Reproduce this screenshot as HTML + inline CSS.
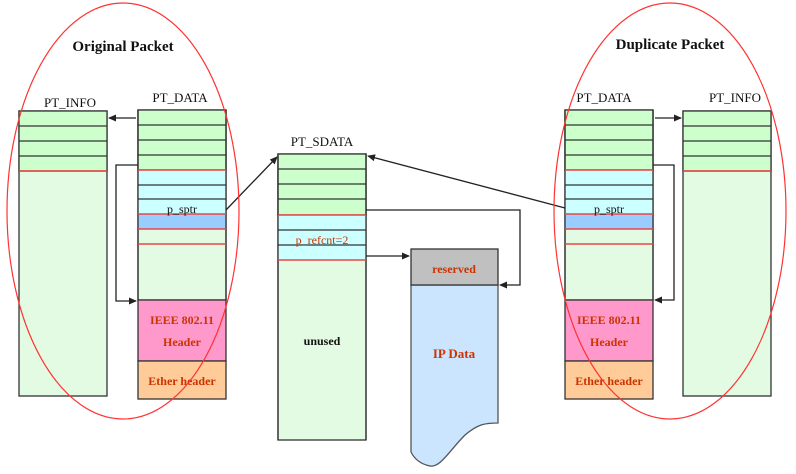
<!DOCTYPE html>
<html><head><meta charset="utf-8"><style>
html,body{margin:0;padding:0;background:#fff;}
svg{display:block;}
text{font-family:"Liberation Serif",serif;}
</style></head><body>
<svg width="796" height="474" viewBox="0 0 796 474" xmlns="http://www.w3.org/2000/svg">
<defs>
<marker id="ah" markerWidth="8" markerHeight="8" refX="7" refY="4" orient="auto" markerUnits="userSpaceOnUse">
<path d="M0,0.5 L8,4 L0,7.5 z" fill="#222"/></marker>
</defs>

<!-- Left PT_INFO -->
<rect x="19" y="111" width="88" height="285" fill="#e3fbe3" stroke="#333" stroke-width="1.3"/>
<rect x="19" y="111" width="88" height="60" fill="#ccffcc" stroke="#333" stroke-width="1.3"/>
<g stroke="#333" stroke-width="1.3"><line x1="19" y1="126" x2="107" y2="126"/><line x1="19" y1="141" x2="107" y2="141"/><line x1="19" y1="156" x2="107" y2="156"/></g>
<line x1="19" y1="171" x2="107" y2="171" stroke="#e44" stroke-width="1.5"/>

<!-- PT_DATA generic builder left (x=138) -->
<g id="pd">
<rect x="138" y="110" width="88" height="190" fill="#e3fbe3" stroke="#333" stroke-width="1.3"/>
<rect x="138" y="110" width="88" height="60" fill="#ccffcc" stroke="#333" stroke-width="1.3"/>
<rect x="138" y="170" width="88" height="44" fill="#ccffff"/>
<rect x="138" y="214" width="88" height="15" fill="#99ccff"/>
<g stroke="#333" stroke-width="1.3"><line x1="138" y1="125" x2="226" y2="125"/><line x1="138" y1="140" x2="226" y2="140"/><line x1="138" y1="155" x2="226" y2="155"/><line x1="138" y1="185" x2="226" y2="185"/><line x1="138" y1="199" x2="226" y2="199"/>
<line x1="138" y1="110" x2="138" y2="300"/><line x1="226" y1="110" x2="226" y2="300"/></g>
<g stroke="#e44" stroke-width="1.5"><line x1="138" y1="170" x2="226" y2="170"/><line x1="138" y1="214" x2="226" y2="214"/><line x1="138" y1="229" x2="226" y2="229"/><line x1="138" y1="244" x2="226" y2="244"/></g>
<rect x="138" y="300" width="88" height="61" fill="#ff99cc" stroke="#333" stroke-width="1.3"/>
<rect x="138" y="361" width="88" height="38" fill="#ffcc99" stroke="#333" stroke-width="1.3"/>
<text x="182" y="213" font-size="12" text-anchor="middle" fill="#111">p_sptr</text>
<text x="182" y="324" font-size="12" font-weight="bold" text-anchor="middle" fill="#cc3300">IEEE 802.11</text>
<text x="182" y="346" font-size="12" font-weight="bold" text-anchor="middle" fill="#cc3300">Header</text>
<text x="182" y="385" font-size="12" font-weight="bold" text-anchor="middle" fill="#cc3300">Ether header</text>
</g>
<use href="#pd" x="427"/>

<!-- Right PT_INFO -->
<rect x="683" y="111" width="88" height="285" fill="#e3fbe3" stroke="#333" stroke-width="1.3"/>
<rect x="683" y="111" width="88" height="60" fill="#ccffcc" stroke="#333" stroke-width="1.3"/>
<g stroke="#333" stroke-width="1.3"><line x1="683" y1="126" x2="771" y2="126"/><line x1="683" y1="141" x2="771" y2="141"/><line x1="683" y1="156" x2="771" y2="156"/></g>
<line x1="683" y1="171" x2="771" y2="171" stroke="#e44" stroke-width="1.5"/>

<!-- PT_SDATA -->
<rect x="278" y="154" width="88" height="286" fill="#e3fbe3" stroke="#333" stroke-width="1.3"/>
<rect x="278" y="154" width="88" height="61" fill="#ccffcc" stroke="#333" stroke-width="1.3"/>
<rect x="278" y="215" width="88" height="45" fill="#ccffff"/>
<g stroke="#333" stroke-width="1.3"><line x1="278" y1="169" x2="366" y2="169"/><line x1="278" y1="184" x2="366" y2="184"/><line x1="278" y1="199" x2="366" y2="199"/><line x1="278" y1="230" x2="366" y2="230"/><line x1="278" y1="245" x2="366" y2="245"/><line x1="278" y1="154" x2="278" y2="440"/><line x1="366" y1="154" x2="366" y2="440"/></g>
<g stroke="#e44" stroke-width="1.5"><line x1="278" y1="215" x2="366" y2="215"/><line x1="278" y1="260" x2="366" y2="260"/></g>
<text x="322" y="244" font-size="12" text-anchor="middle" fill="#cc3300">p_refcnt=2</text>
<text x="322" y="345" font-size="12" font-weight="bold" text-anchor="middle" fill="#111">unused</text>

<!-- IP data shape -->
<path d="M411,285 L498,285 L498,423 C485,423 478,424 465,435 C450,450 440,468 430,466 C420,464 414,458 411,452 Z" fill="#cce5ff" stroke="#555" stroke-width="1.3"/>
<rect x="411" y="249" width="87" height="36" fill="#c0c0c0" stroke="#333" stroke-width="1.3"/>
<text x="454" y="273" font-size="12" font-weight="bold" text-anchor="middle" fill="#cc3300">reserved</text>
<text x="454" y="358" font-size="13" font-weight="bold" text-anchor="middle" fill="#cc3300">IP Data</text>

<!-- Labels -->
<text x="123" y="51" font-size="15" font-weight="bold" text-anchor="middle" fill="#111">Original Packet</text>
<text x="670" y="49" font-size="15" font-weight="bold" text-anchor="middle" fill="#111">Duplicate Packet</text>
<g font-size="13" fill="#111" text-anchor="middle">
<text x="70" y="107">PT_INFO</text>
<text x="180" y="102">PT_DATA</text>
<text x="322" y="146">PT_SDATA</text>
<text x="604" y="102">PT_DATA</text>
<text x="735" y="102">PT_INFO</text>
</g>

<!-- Connectors -->
<g stroke="#222" stroke-width="1.3" fill="none">
<line x1="136" y1="118" x2="109" y2="118" marker-end="url(#ah)"/>
<polyline points="138,165 116,165 116,301 136,301" marker-end="url(#ah)"/>
<line x1="226" y1="210" x2="277" y2="157" marker-end="url(#ah)"/>
<line x1="565" y1="208" x2="368" y2="156" marker-end="url(#ah)"/>
<line x1="655" y1="118" x2="681" y2="118" marker-end="url(#ah)"/>
<polyline points="653,165 674,165 674,300 655,300" marker-end="url(#ah)"/>
<polyline points="366,210 520,210 520,285 500,285" marker-end="url(#ah)"/>
<line x1="366" y1="256" x2="409" y2="256" marker-end="url(#ah)"/>
</g>

<!-- Ellipses -->
<ellipse cx="123" cy="211" rx="116" ry="208" fill="none" stroke="#f33" stroke-width="1.2"/>
<ellipse cx="670" cy="211" rx="116" ry="208" fill="none" stroke="#f33" stroke-width="1.2"/>
</svg>
</body></html>
